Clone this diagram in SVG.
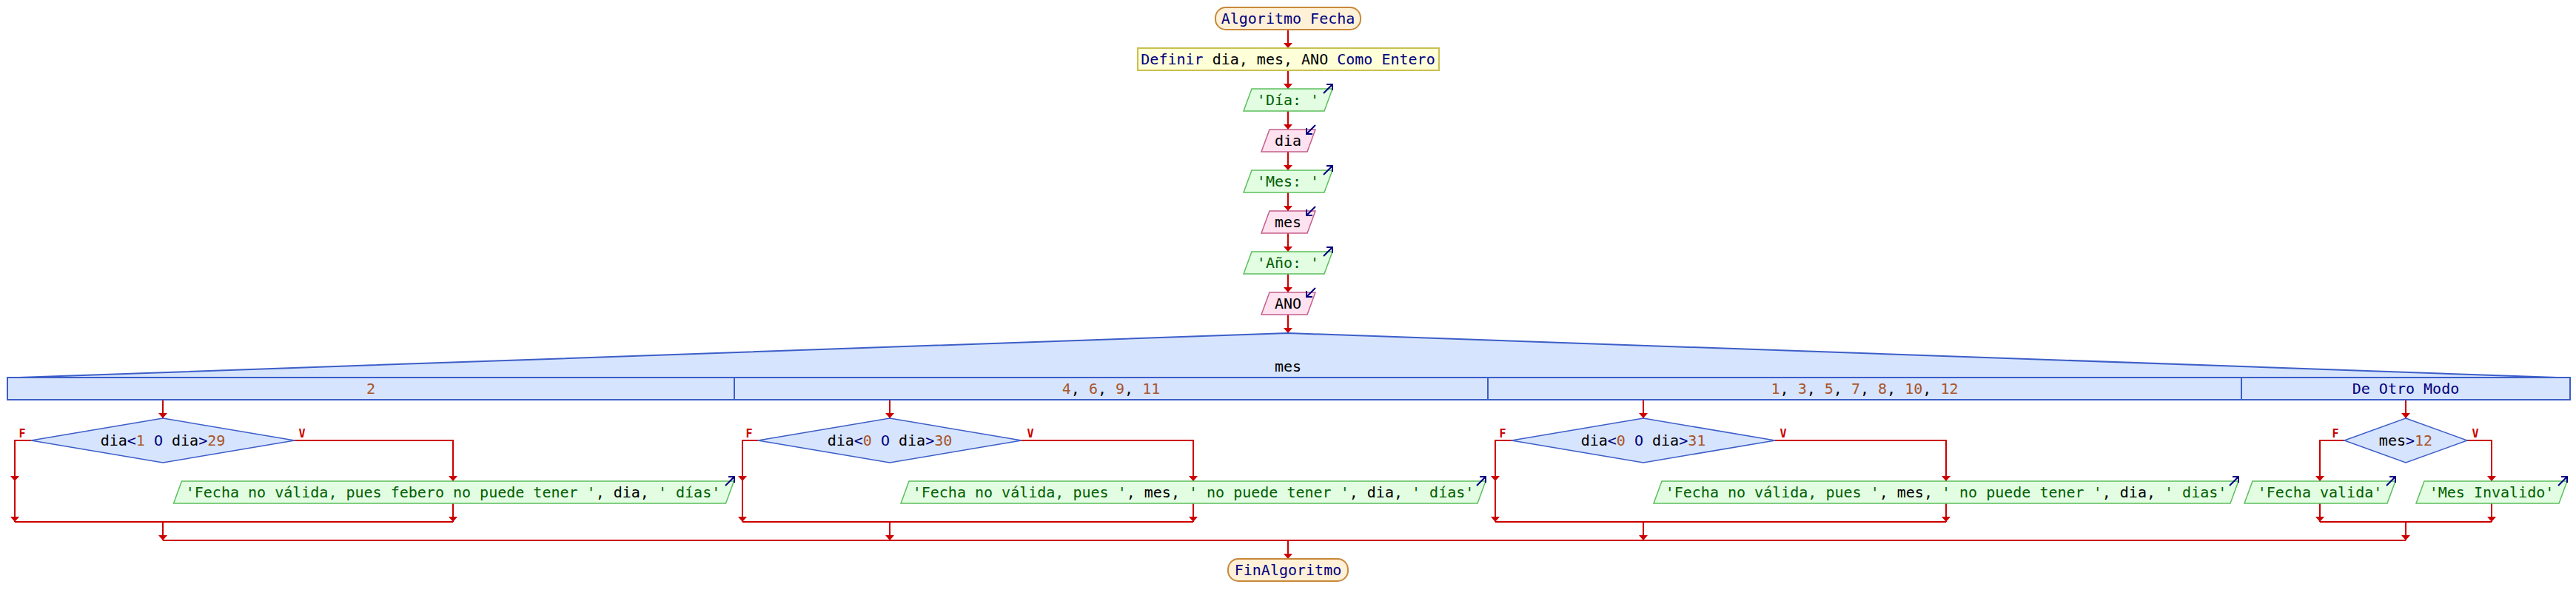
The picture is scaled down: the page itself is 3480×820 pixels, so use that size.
<svg xmlns="http://www.w3.org/2000/svg" width="3480" height="820" viewBox="0 0 3480 820">
<style>
.t{font-family:'DejaVu Sans Mono','Liberation Mono',monospace;font-size:20px;text-anchor:middle}
.kw{fill:#000080}.id{fill:#000000}.str{fill:#006000}.num{fill:#a8552a}
.fv{font-family:'DejaVu Sans Mono','Liberation Mono',monospace;font-size:15px;font-weight:bold;fill:#cc0000;text-anchor:middle}
.term{fill:#fff1d8;stroke:#c8883a;stroke-width:2}
.def{fill:#ffffd8;stroke:#c8c050;stroke-width:2}
.out{fill:#e2fde2;stroke:#5cbf5c;stroke-width:1.5}
.in{fill:#ffe2ef;stroke:#c45f8c;stroke-width:1.5}
.sw{fill:#d7e4fd;stroke:#3c5ec8;stroke-width:2}
.dia{fill:#d7e4fd;stroke:#3c5ec8;stroke-width:1.5}
.ico{fill:none;stroke:#000080;stroke-width:2}
.c{fill:none;stroke:#cc0000;stroke-width:2}
.ca{fill:none;stroke:#cc0000;stroke-width:2;marker-end:url(#ah)}
</style>
<defs>
<marker id="ah" viewBox="0 0 7 12" refX="7" refY="6" markerWidth="7" markerHeight="12" markerUnits="userSpaceOnUse" orient="auto">
<path d="M0,0 L7,6 L0,12 z" fill="#cc0000"/>
</marker>
<path id="outIco" class="ico" d="M-12,6 L0,-6 M-8,-6 L0,-6 L0,2"/>
<path id="inIco" class="ico" d="M0,-6 L-12,6 M-12,-2 L-12,6 L-4,6"/>
</defs>

<g id="connectors">
<line class="ca" x1="1740" y1="40" x2="1740" y2="65"/>
<line class="ca" x1="1740" y1="95" x2="1740" y2="120"/>
<line class="ca" x1="1740" y1="150" x2="1740" y2="175"/>
<line class="ca" x1="1740" y1="205" x2="1740" y2="230"/>
<line class="ca" x1="1740" y1="260" x2="1740" y2="285"/>
<line class="ca" x1="1740" y1="315" x2="1740" y2="340"/>
<line class="ca" x1="1740" y1="370" x2="1740" y2="395"/>
<line class="ca" x1="1740" y1="425" x2="1740" y2="450"/>
<!-- case 1 -->
<line class="ca" x1="220" y1="540" x2="220" y2="565"/>
<polyline class="ca" points="42,595 20,595 20,650"/>
<line class="ca" x1="20" y1="650" x2="20" y2="705"/>
<polyline class="ca" points="398,595 612,595 612,650"/>
<line class="ca" x1="612" y1="680" x2="612" y2="705"/>
<line class="c" x1="20" y1="705" x2="612" y2="705"/>
<line class="ca" x1="220" y1="705" x2="220" y2="730"/>
<!-- case 2 -->
<line class="ca" x1="1202" y1="540" x2="1202" y2="565"/>
<polyline class="ca" points="1024,595 1003,595 1003,650"/>
<line class="ca" x1="1003" y1="650" x2="1003" y2="705"/>
<polyline class="ca" points="1380,595 1612,595 1612,650"/>
<line class="ca" x1="1612" y1="680" x2="1612" y2="705"/>
<line class="c" x1="1003" y1="705" x2="1612" y2="705"/>
<line class="ca" x1="1202" y1="705" x2="1202" y2="730"/>
<!-- case 3 -->
<line class="ca" x1="2220" y1="540" x2="2220" y2="565"/>
<polyline class="ca" points="2042,595 2020,595 2020,650"/>
<line class="ca" x1="2020" y1="650" x2="2020" y2="705"/>
<polyline class="ca" points="2398,595 2629,595 2629,650"/>
<line class="ca" x1="2629" y1="680" x2="2629" y2="705"/>
<line class="c" x1="2020" y1="705" x2="2629" y2="705"/>
<line class="ca" x1="2220" y1="705" x2="2220" y2="730"/>
<!-- case 4 -->
<line class="ca" x1="3250" y1="540" x2="3250" y2="565"/>
<polyline class="ca" points="3167,595 3134,595 3134,650"/>
<line class="ca" x1="3134" y1="680" x2="3134" y2="705"/>
<polyline class="ca" points="3333,595 3366,595 3366,650"/>
<line class="ca" x1="3366" y1="680" x2="3366" y2="705"/>
<line class="c" x1="3134" y1="705" x2="3366" y2="705"/>
<line class="ca" x1="3250" y1="705" x2="3250" y2="730"/>
<!-- merge -->
<line class="c" x1="220" y1="730" x2="3250" y2="730"/>
<line class="ca" x1="1740" y1="730" x2="1740" y2="755"/>
</g>

<g id="start">
<rect class="term" x="1642" y="10" width="196" height="30" rx="14" ry="14"/>
<text class="t kw" x="1740" y="32">Algoritmo Fecha</text>
</g>
<g id="definir">
<rect class="def" x="1537" y="65" width="407" height="30"/>
<text class="t" x="1740" y="87"><tspan class="kw">Definir</tspan><tspan class="id"> dia, mes, ANO </tspan><tspan class="kw">Como Entero</tspan></text>
</g>
<g id="out_dia">
<polygon class="out" points="1691,120 1800,120 1789,150 1680,150"/>
<text class="t str" x="1740" y="142">'Día: '</text>
<use href="#outIco" x="1800" y="120"/>
</g>
<g id="in_dia">
<polygon class="in" points="1715,175 1777,175 1766,205 1704,205"/>
<text class="t id" x="1740" y="197">dia</text>
<use href="#inIco" x="1777" y="175"/>
</g>
<g id="out_mes">
<polygon class="out" points="1691,230 1800,230 1789,260 1680,260"/>
<text class="t str" x="1740" y="252">'Mes: '</text>
<use href="#outIco" x="1800" y="230"/>
</g>
<g id="in_mes">
<polygon class="in" points="1715,285 1777,285 1766,315 1704,315"/>
<text class="t id" x="1740" y="307">mes</text>
<use href="#inIco" x="1777" y="285"/>
</g>
<g id="out_ano">
<polygon class="out" points="1691,340 1800,340 1789,370 1680,370"/>
<text class="t str" x="1740" y="362">'Año: '</text>
<use href="#outIco" x="1800" y="340"/>
</g>
<g id="in_ano">
<polygon class="in" points="1715,395 1777,395 1766,425 1704,425"/>
<text class="t id" x="1740" y="417">ANO</text>
<use href="#inIco" x="1777" y="395"/>
</g>

<g id="switch">
<polygon class="sw" points="25,510 1740,450 3455,510"/>
<rect class="sw" x="10" y="510" width="3462" height="30"/>
<line x1="992" y1="510" x2="992" y2="540" stroke="#3c5ec8" stroke-width="2"/>
<line x1="2010" y1="510" x2="2010" y2="540" stroke="#3c5ec8" stroke-width="2"/>
<line x1="3028" y1="510" x2="3028" y2="540" stroke="#3c5ec8" stroke-width="2"/>
<text class="t id" x="1740" y="502">mes</text>
<text class="t num" x="501" y="532">2</text>
<text class="t" x="1501" y="532"><tspan class="num">4</tspan><tspan class="id">, </tspan><tspan class="num">6</tspan><tspan class="id">, </tspan><tspan class="num">9</tspan><tspan class="id">, </tspan><tspan class="num">11</tspan></text>
<text class="t" x="2519" y="532"><tspan class="num">1</tspan><tspan class="id">, </tspan><tspan class="num">3</tspan><tspan class="id">, </tspan><tspan class="num">5</tspan><tspan class="id">, </tspan><tspan class="num">7</tspan><tspan class="id">, </tspan><tspan class="num">8</tspan><tspan class="id">, </tspan><tspan class="num">10</tspan><tspan class="id">, </tspan><tspan class="num">12</tspan></text>
<text class="t kw" x="3250" y="532">De Otro Modo</text>
</g>

<g id="if1">
<polygon class="dia" points="220,565 398,595 220,625 42,595"/>
<text class="t" x="220" y="602"><tspan class="id">dia</tspan><tspan class="kw">&lt;</tspan><tspan class="num">1</tspan><tspan class="kw"> O </tspan><tspan class="id">dia</tspan><tspan class="kw">&gt;</tspan><tspan class="num">29</tspan></text>
<text class="fv" x="30" y="591">F</text>
<text class="fv" x="408" y="591">V</text>
</g>
<g id="out1">
<polygon class="out" points="245.5,650 991.5,650 980.5,680 234.5,680"/>
<text class="t" x="612" y="672"><tspan class="str">'Fecha no válida, pues febero no puede tener '</tspan><tspan class="id">, dia, </tspan><tspan class="str">' días'</tspan></text>
<use href="#outIco" x="992" y="650"/>
</g>

<g id="if2">
<polygon class="dia" points="1202,565 1380,595 1202,625 1024,595"/>
<text class="t" x="1202" y="602"><tspan class="id">dia</tspan><tspan class="kw">&lt;</tspan><tspan class="num">0</tspan><tspan class="kw"> O </tspan><tspan class="id">dia</tspan><tspan class="kw">&gt;</tspan><tspan class="num">30</tspan></text>
<text class="fv" x="1012" y="591">F</text>
<text class="fv" x="1392" y="591">V</text>
</g>
<g id="out2">
<polygon class="out" points="1228,650 2007,650 1996,680 1217,680"/>
<text class="t" x="1612" y="672"><tspan class="str">'Fecha no válida, pues '</tspan><tspan class="id">, mes, </tspan><tspan class="str">' no puede tener '</tspan><tspan class="id">, dia, </tspan><tspan class="str">' días'</tspan></text>
<use href="#outIco" x="2007" y="650"/>
</g>

<g id="if3">
<polygon class="dia" points="2220,565 2398,595 2220,625 2042,595"/>
<text class="t" x="2220" y="602"><tspan class="id">dia</tspan><tspan class="kw">&lt;</tspan><tspan class="num">0</tspan><tspan class="kw"> O </tspan><tspan class="id">dia</tspan><tspan class="kw">&gt;</tspan><tspan class="num">31</tspan></text>
<text class="fv" x="2030" y="591">F</text>
<text class="fv" x="2409" y="591">V</text>
</g>
<g id="out3">
<polygon class="out" points="2245,650 3024,650 3013,680 2234,680"/>
<text class="t" x="2629" y="672"><tspan class="str">'Fecha no válida, pues '</tspan><tspan class="id">, mes, </tspan><tspan class="str">' no puede tener '</tspan><tspan class="id">, dia, </tspan><tspan class="str">' dias'</tspan></text>
<use href="#outIco" x="3024" y="650"/>
</g>

<g id="if4">
<polygon class="dia" points="3250,565 3333,595 3250,625 3167,595"/>
<text class="t" x="3250" y="602"><tspan class="id">mes</tspan><tspan class="kw">&gt;</tspan><tspan class="num">12</tspan></text>
<text class="fv" x="3155" y="591">F</text>
<text class="fv" x="3344" y="591">V</text>
</g>
<g id="out4a">
<polygon class="out" points="3043,650 3236,650 3225,680 3032,680"/>
<text class="t str" x="3134" y="672">'Fecha valida'</text>
<use href="#outIco" x="3236" y="650"/>
</g>
<g id="out4b">
<polygon class="out" points="3275,650 3468,650 3457,680 3264,680"/>
<text class="t str" x="3366" y="672">'Mes Invalido'</text>
<use href="#outIco" x="3468" y="650"/>
</g>

<g id="end">
<rect class="term" x="1659" y="755" width="162" height="30" rx="14" ry="14"/>
<text class="t kw" x="1740" y="777">FinAlgoritmo</text>
</g>
</svg>
